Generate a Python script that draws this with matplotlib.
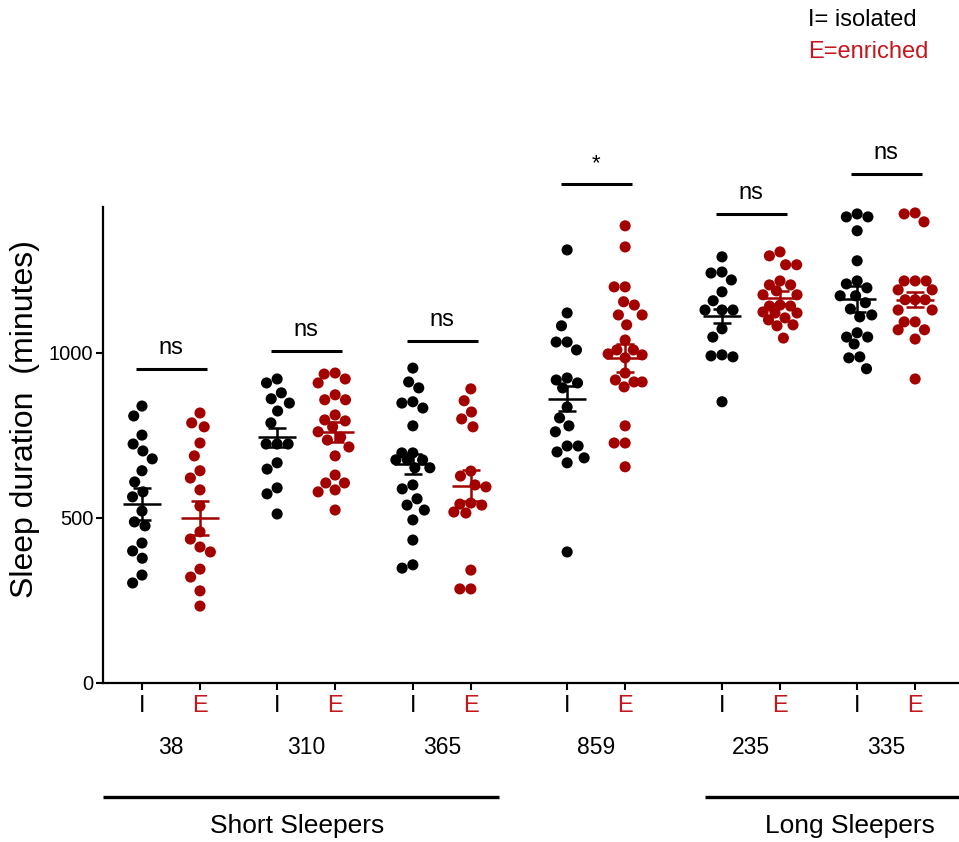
import numpy as np
import matplotlib
matplotlib.use("Agg")
import matplotlib.pyplot as plt
from matplotlib.transforms import blended_transform_factory

plt.rcParams['font.family'] = ['Liberation Sans', 'DejaVu Sans']

# ---------------- data ----------------
strains = ['38', '310', '365', '859', '235', '335']

s38_I = [839, 809, 751, 724, 703, 679, 643, 609, 579, 564, 521, 488, 476, 424, 400, 378, 327, 303]
s38_E = [818, 788, 776, 727, 688, 643, 621, 585, 536, 458, 436, 412, 397, 345, 321, 279, 233]
s310_I = [921, 909, 879, 861, 848, 824, 788, 724, 724, 724, 667, 648, 591, 573, 512]
s310_E = [939, 936, 921, 909, 873, 858, 858, 812, 797, 794, 776, 761, 745, 736, 715, 688,
          630, 606, 606, 585, 579, 524]
s365_I = [954, 912, 894, 852, 848, 833, 779, 697, 697, 676, 676, 676, 652, 652, 600, 588,
          558, 539, 524, 494, 433, 358, 348]
s365_E = [891, 855, 821, 800, 776, 642, 627, 600, 594, 545, 542, 539, 518, 515, 342, 285, 285]
s859_I = [1312, 1121, 1082, 1033, 1033, 1009, 924, 918, 909, 894, 836, 803, 779, 761, 718, 718,
          700, 682, 667, 397]
s859_E = [1385, 1321, 1200, 1200, 1155, 1145, 1115, 1115, 1085, 1039, 1009, 1009, 997, 994, 985,
          939, 918, 912, 912, 897, 779, 727, 727, 655]
s235_I = [1291, 1245, 1242, 1221, 1185, 1158, 1130, 1130, 1130, 1073, 1048, 994, 991, 988, 852]
s235_E = [1306, 1294, 1267, 1267, 1218, 1206, 1206, 1188, 1176, 1176, 1145, 1142, 1142, 1124,
          1121, 1121, 1106, 1100, 1085, 1082, 1045]
s335_I = [1421, 1412, 1412, 1370, 1279, 1218, 1209, 1197, 1173, 1173, 1152, 1133, 1115, 1109,
          1061, 1048, 1048, 1027, 988, 985, 952]
s335_E = [1424, 1421, 1397, 1218, 1218, 1218, 1191, 1191, 1161, 1161, 1161, 1130, 1130, 1094,
          1094, 1070, 1070, 1042, 921]

mean_I = [542, 745, 664, 861, 1112, 1164]
sem_I = [48, 29, 30, 38, 22, 40]
mean_E = [500, 761, 597, 985, 1167, 1161]
sem_E = [51, 30, 47, 42, 20, 22]

sig_labels = ['ns', 'ns', 'ns', '*', 'ns', 'ns']
sig_heights = [952, 1006, 1036, 1512, 1421, 1542]

groups = ['Short Sleepers', 'Long Sleepers']

isolated = [s38_I, s310_I, s365_I, s859_I, s235_I, s335_I]
enriched = [s38_E, s310_E, s365_E, s859_E, s235_E, s335_E]

# ---------------- layout ----------------
W, H = 959, 842
BLACK = '#000000'
RED_PT = '#a30000'
RED_TXT = '#c4161c'

pos_I = np.array([0, 2.33, 4.67, 7.33, 10.0, 12.33])
pos_E = pos_I + 1.0

fig = plt.figure(figsize=(W / 100, H / 100), dpi=100)
ax = fig.add_axes([103 / W, 1 - 683 / H, 1 - 103 / W, (683 - 207) / H])
ax.set_xlim(-0.672, 14.086)
ax.set_ylim(0, 1442)

for s in ['top', 'right']:
    ax.spines[s].set_visible(False)
for s in ['left', 'bottom']:
    ax.spines[s].set_linewidth(1.6)


def swarm(vals, center, sx=11.0, sy=15.0, maxoff=17.0):
    vals = np.asarray(vals, float)
    pts = ax.transData.transform(np.column_stack([np.full(len(vals), center), vals]))
    ys = pts[:, 1]
    order = np.argsort(-ys)
    placed = []
    offs = np.zeros(len(vals))
    for i in order:
        y = ys[i]
        near = [(px, py) for px, py in placed if abs(py - y) < sy]
        cands = [0.0]
        for px, py in near:
            dx = sx * np.sqrt(1 - ((py - y) / sy) ** 2)
            cands += [px - dx, px + dx]
        cands = sorted(cands, key=lambda c: (abs(c), c))
        chosen = None
        for c in cands:
            if abs(c) > maxoff:
                continue
            ok = all(abs(c - px) >= sx * np.sqrt(1 - ((py - y) / sy) ** 2) - 1e-6
                     for px, py in near)
            if ok:
                chosen = c
                break
        if chosen is None:
            grid = np.linspace(-maxoff, maxoff, 69)
            best, bestscore = 0.0, -1
            for c in grid:
                score = min(np.hypot((c - px) / sx, (py - y) / sy) for px, py in near)
                if score > bestscore + 1e-9 or (abs(score - bestscore) < 1e-9 and abs(c) < abs(best)):
                    best, bestscore = c, score
            chosen = best
        placed.append((chosen, y))
        offs[i] = chosen
    xpix = pts[:, 0] + offs
    back = ax.transData.inverted().transform(np.column_stack([xpix, ys]))
    return back[:, 0]


msize = 64
for k in range(len(strains)):
    for vals, xc, col, m, se in [(isolated[k], pos_I[k], BLACK, mean_I[k], sem_I[k]),
                                 (enriched[k], pos_E[k], RED_PT, mean_E[k], sem_E[k])]:
        xs = swarm(vals, xc)
        ax.scatter(xs, vals, s=msize, color=col, edgecolors='none', zorder=3, clip_on=False)
        ax.hlines(m, xc - 0.33, xc + 0.33, color=col, lw=1.8, zorder=4)
        ax.vlines(xc, m - se, m + se, color=col, lw=1.8, zorder=4)
        ax.hlines([m - se, m + se], xc - 0.16, xc + 0.16, color=col, lw=1.8, zorder=4)

# significance bars
for k in range(len(strains)):
    y = sig_heights[k]
    ax.plot([pos_I[k] - 0.1, pos_E[k] + 0.12], [y, y], color='black', lw=2.2,
            clip_on=False, solid_capstyle='butt')
    ax.annotate(sig_labels[k], xy=(pos_I[k] + 0.5, y), xytext=(0, 7),
                textcoords='offset points', ha='center', va='bottom',
                fontsize=17 if sig_labels[k] == 'ns' else 16, annotation_clip=False)

# axes ticks
ax.set_yticks([0, 500, 1000])
ax.tick_params(axis='y', labelsize=14.5, width=1.5, length=5, pad=2)
ticks = np.ravel(np.column_stack([pos_I, pos_E]))
ax.set_xticks(ticks)
ax.set_xticklabels(['I', 'E'] * len(strains))
ax.tick_params(axis='x', labelsize=17, width=1.5, length=5, pad=4)
for i, lab in enumerate(ax.get_xticklabels()):
    lab.set_color(BLACK if i % 2 == 0 else RED_TXT)

trans = blended_transform_factory(ax.transData, ax.transAxes)
for k, name in enumerate(strains):
    ax.text(pos_I[k] + 0.5, (683 - 748) / 476, name, transform=trans,
            ha='center', va='center', fontsize=16.5)

# group brackets
ax.plot([-0.672, 6.155], [(683 - 797) / 476] * 2, transform=trans, color='black',
        lw=2.4, clip_on=False, solid_capstyle='butt')
ax.plot([9.707, 14.086], [(683 - 797) / 476] * 2, transform=trans, color='black',
        lw=2.4, clip_on=False, solid_capstyle='butt')
ax.text(2.67, (683 - 826) / 476, groups[0], transform=trans, ha='center', va='center',
        fontsize=19)
ax.text(12.2, (683 - 826) / 476, groups[1], transform=trans, ha='center', va='center',
        fontsize=19)

fig.text(25 / W, 1 - 419 / H, 'Sleep duration  (minutes)', rotation=90,
         ha='center', va='center', fontsize=23)

fig.text(808 / W, 1 - 20 / H, 'I= isolated', ha='left', va='center', fontsize=17,
         color=BLACK)
fig.text(808 / W, 1 - 52 / H, 'E=enriched', ha='left', va='center', fontsize=17,
         color=RED_TXT)

fig.savefig('out.png', dpi=100)
